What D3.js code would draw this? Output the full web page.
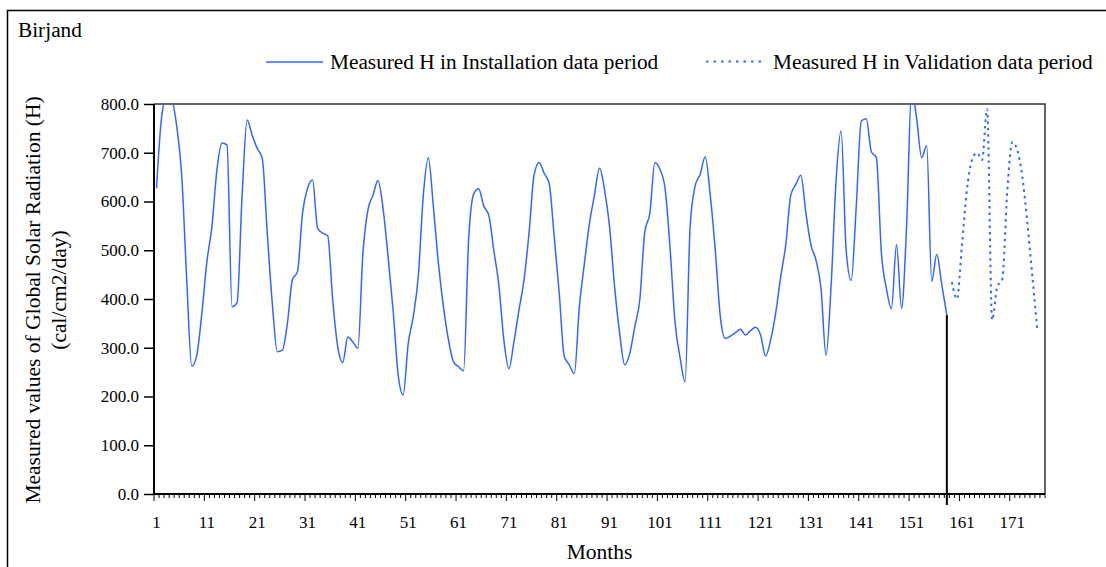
<!DOCTYPE html>
<html>
<head>
<meta charset="utf-8">
<script src="https://cdn.jsdelivr.net/npm/d3@7"></script>
<style>
  html, body { margin: 0; padding: 0; background: #fff; }
  svg { display: block; }
  svg text { font-family: "Liberation Serif", "DejaVu Serif", "Times New Roman", Times, serif !important; fill: #000; }
</style>
</head>
<body>
<svg id="chart" width="1106" height="567" font-family="Liberation Serif, serif"></svg>
<script>
// ---------- data ----------
const chartTitle = "Birjand";
const seriesNames = ["Measured H in Installation data period", "Measured H in Validation data period"];
const months = d3.range(1, 178); // category axis: months 1..177
const xTickLabels = [1, 11, 21, 31, 41, 51, 61, 71, 81, 91, 101, 111, 121, 131, 141, 151, 161, 171];
const yTicks = [0, 100, 200, 300, 400, 500, 600, 700, 800];

// months 1..158
const installation = [
  627, 772, 815, 810, 755, 655, 440, 262, 285, 370,
  476, 548, 665, 720, 716, 384, 392, 612, 767, 736,
  709, 689, 535, 391, 292, 295, 350, 440, 456, 576,
  627, 644, 545, 535, 530, 398, 302, 270, 322, 312,
  299, 494, 583, 613, 643, 586, 487, 377, 245, 203,
  309, 364, 446, 613, 690, 589, 473, 384, 316, 271,
  261, 253, 521, 615, 626, 591, 572, 500, 429, 316,
  257, 312, 377, 439, 535, 654, 680, 658, 637, 528,
  412, 282, 265, 247, 384, 473, 555, 613, 668, 624,
  548, 425, 330, 265, 288, 343, 398, 538, 576, 680,
  666, 629, 507, 353, 280, 230, 548, 632, 656, 692,
  613, 500, 364, 319, 324, 331, 338, 326, 335, 342,
  326, 283, 316, 371, 446, 511, 613, 635, 654, 576,
  511, 480, 422, 284, 425, 644, 745, 500, 438, 589,
  765, 770, 702, 690, 494, 421, 380, 512, 381, 548,
  830, 770, 690, 715, 436, 492, 429, 367
];
// months 159..176
const validation = [
  435, 400, 510, 625, 685, 700, 685, 790, 357, 425,
  440, 620, 722, 705, 651, 555, 446, 333
];

const installMonths = months.slice(0, installation.length);
const validMonths = months.slice(installation.length, installation.length + validation.length);

// ---------- layout ----------
const svg = d3.select("#chart");
const L = 154, R = 1045, T = 104, B = 494;
const blue = "#3366ff";
const serif = "Liberation Serif, DejaVu Serif, serif";

const x = d3.scaleBand().domain(months).range([L, R]).padding(0);
const cx = k => x(k) + x.bandwidth() / 2;
const y = d3.scaleLinear().domain([0, 800]).range([B, T]);

// outer frame
svg.append("rect").attr("x", 7.5).attr("y", 10.5).attr("width", 1110).attr("height", 600)
  .attr("fill", "none").attr("stroke", "#000").attr("stroke-width", 1.5);

// title
svg.append("text").attr("x", 18).attr("y", 37).attr("font-size", 21.3).attr("font-family", serif).text(chartTitle);

// legend
svg.append("line").attr("x1", 266).attr("x2", 323).attr("y1", 62).attr("y2", 62)
  .attr("stroke", blue).attr("stroke-width", 1.5);
svg.append("text").attr("x", 330).attr("y", 69).attr("font-size", 21.3).attr("font-family", serif).text(seriesNames[0]);
svg.append("line").attr("x1", 706).attr("x2", 764).attr("y1", 61.5).attr("y2", 61.5)
  .attr("stroke", blue).attr("stroke-width", 2).attr("stroke-dasharray", "2.5,5");
svg.append("text").attr("x", 773).attr("y", 69).attr("font-size", 21.3).attr("font-family", serif).text(seriesNames[1]);

// plot frame top & right
svg.append("path").attr("d", `M${L},${T}H${R}V${B}`)
  .attr("fill", "none").attr("stroke", "#333").attr("stroke-width", 1.5);

// clip
svg.append("clipPath").attr("id", "clip").append("rect")
  .attr("x", L).attr("y", T - 0.5).attr("width", R - L).attr("height", B - T + 0.5);

// y axis
const yAxis = svg.append("g").attr("transform", `translate(${L},0)`)
  .call(d3.axisLeft(y).tickValues(yTicks).tickFormat(d3.format(".1f")).tickSize(10).tickPadding(5));
yAxis.attr("font-family", serif);
yAxis.select(".domain").remove();
yAxis.selectAll(".tick line").attr("stroke", "#000").attr("stroke-width", 1.5);
yAxis.selectAll(".tick text").attr("font-size", 17).attr("fill", "#000");

// x axis labels
const xAxis = svg.append("g").attr("transform", `translate(0,${B})`)
  .call(d3.axisBottom(x).tickValues(xTickLabels).tickSize(0).tickPadding(22));
xAxis.attr("font-family", serif);
xAxis.select(".domain").remove();
xAxis.selectAll(".tick text").attr("font-size", 17).attr("fill", "#000");

// x tick marks at category boundaries
const boundaries = months.map(k => x(k)).concat([x(months[months.length - 1]) + x.bandwidth()]);
svg.append("g").selectAll("line").data(boundaries).join("line")
  .attr("x1", d => d).attr("x2", d => d)
  .attr("y1", B).attr("y2", (d, i) => B + (i % 10 === 0 ? 7 : 4))
  .attr("stroke", "#000").attr("stroke-width", 1);

// axis lines
svg.append("line").attr("x1", L).attr("x2", L).attr("y1", T).attr("y2", B + 1)
  .attr("stroke", "#000").attr("stroke-width", 2);
svg.append("line").attr("x1", L - 1).attr("x2", R).attr("y1", B).attr("y2", B)
  .attr("stroke", "#000").attr("stroke-width", 2);

// series
const line = d3.line().x(d => cx(d[0])).y(d => y(d[1])).curve(d3.curveMonotoneX);
const g = svg.append("g").attr("clip-path", "url(#clip)");
g.append("path").datum(installMonths.map((m, i) => [m, installation[i]]))
  .attr("d", line).attr("fill", "none").attr("stroke", blue).attr("stroke-width", 1.5);
g.append("path").datum(validMonths.map((m, i) => [m, validation[i]]))
  .attr("d", line).attr("fill", "none").attr("stroke", blue).attr("stroke-width", 2)
  .attr("stroke-dasharray", "2.5,4");

// black marker line at end of installation period
const lastM = installMonths[installMonths.length - 1];
svg.append("line").attr("x1", cx(lastM)).attr("x2", cx(lastM))
  .attr("y1", y(installation[installation.length - 1])).attr("y2", B + 11)
  .attr("stroke", "#000").attr("stroke-width", 2);

// axis titles
svg.append("text").attr("transform", "translate(40,300) rotate(-90)")
  .attr("text-anchor", "middle").attr("font-size", 21.5).attr("font-family", serif)
  .text("Measured values of Global Solar Radiation (H)");
svg.append("text").attr("transform", "translate(66,290) rotate(-90)")
  .attr("text-anchor", "middle").attr("font-size", 21.5).attr("font-family", serif)
  .text("(cal/cm2/day)");
svg.append("text").attr("x", (L + R) / 2).attr("y", 559)
  .attr("text-anchor", "middle").attr("font-size", 21.5).attr("font-family", serif).text("Months");
</script>
</body>
</html>
